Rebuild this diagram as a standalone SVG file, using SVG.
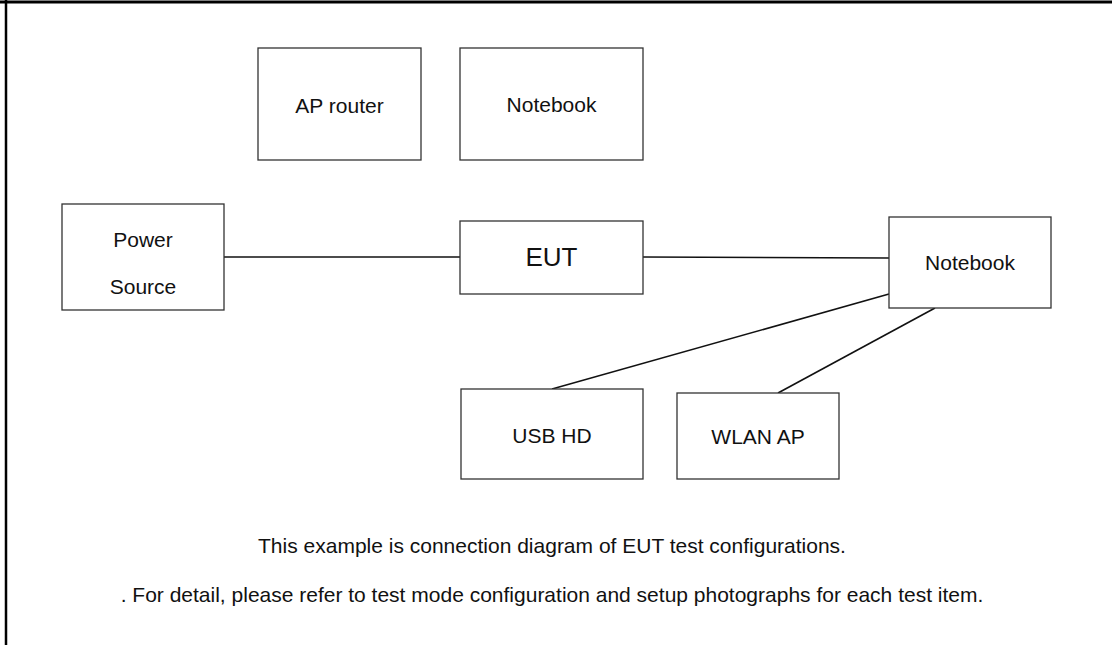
<svg xmlns="http://www.w3.org/2000/svg" width="1112" height="645" viewBox="0 0 1112 645">
<style>
.box{fill:#fff;stroke:#333;stroke-width:1.3}
.lbl{font-family:"Liberation Sans",Arial,sans-serif;font-size:21px;fill:#111;text-anchor:middle}
.big{font-size:26px}
.conn{stroke:#111;stroke-width:1.6;fill:none}
.frame{stroke:#000;fill:none}
</style>
<rect width="1112" height="645" fill="#fff"/>
<g id="frame">
<line class="frame" x1="0" y1="2" x2="1112" y2="2" stroke-width="3"/>
<line class="frame" x1="6" y1="0" x2="6" y2="645" stroke-width="2.5"/>
</g>
<g id="connectors">
<line class="conn" x1="224" y1="257" x2="460" y2="257"/>
<line class="conn" x1="643" y1="257" x2="889" y2="258"/>
<line class="conn" x1="889" y1="294" x2="552" y2="389"/>
<line class="conn" x1="935" y1="308" x2="778" y2="393"/>
</g>
<g id="ap-router">
<rect class="box" x="258" y="48" width="163" height="112"/>
<text class="lbl" x="339.5" y="113">AP router</text>
</g>
<g id="notebook-top">
<rect class="box" x="460" y="48" width="183" height="112"/>
<text class="lbl" x="551.5" y="112">Notebook</text>
</g>
<g id="power-source">
<rect class="box" x="62" y="204" width="162" height="106"/>
<text class="lbl" x="143" y="247">Power</text>
<text class="lbl" x="143" y="294">Source</text>
</g>
<g id="eut">
<rect class="box" x="460" y="221" width="183" height="73"/>
<text class="lbl big" x="551.5" y="266">EUT</text>
</g>
<g id="notebook-right">
<rect class="box" x="889" y="217" width="162" height="91"/>
<text class="lbl" x="970" y="270">Notebook</text>
</g>
<g id="usb-hd">
<rect class="box" x="461" y="389" width="182" height="90"/>
<text class="lbl" x="552" y="443">USB HD</text>
</g>
<g id="wlan-ap">
<rect class="box" x="677" y="393" width="162" height="86"/>
<text class="lbl" x="758" y="444">WLAN AP</text>
</g>
<g id="notes">
<text class="lbl" x="552" y="553">This example is connection diagram of EUT test configurations.</text>
<text class="lbl" x="552" y="602">. For detail, please refer to test mode configuration and setup photographs for each test item.</text>
</g>
</svg>
